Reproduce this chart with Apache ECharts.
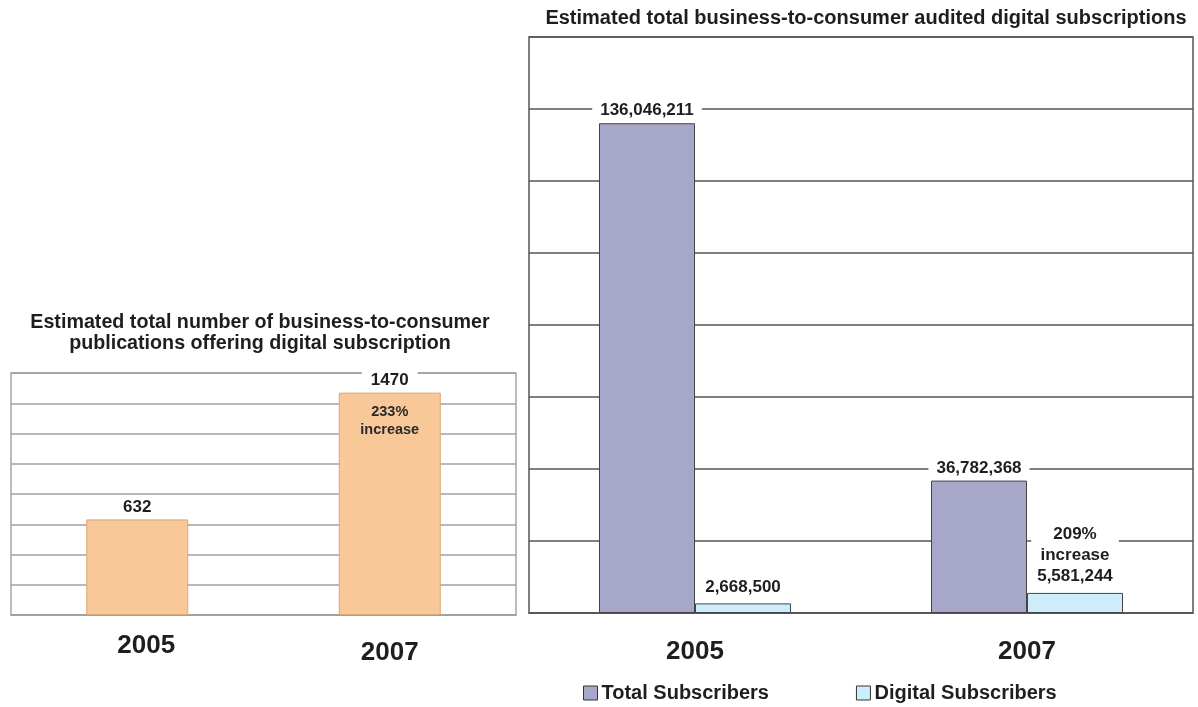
<!DOCTYPE html>
<html>
<head>
<meta charset="utf-8">
<script src="https://cdn.jsdelivr.net/npm/echarts/dist/echarts.min.js"></script>
<style>
  html, body { margin: 0; padding: 0; background: #ffffff; }
  #chart { width: 1198px; height: 707px; }
</style>
</head>
<body>
<div id="chart"></div>
<script>
// Categories and values
const years = ['2005', '2007'];
const publications = [632, 1470];
const publicationNotes = ['', '233%\nincrease'];
const totalSubscribers = [136046211, 36782368];
const digitalSubscribers = [2668500, 5581244];
const digitalNotes = ['', '209%\nincrease'];
const seriesNames = ['Total Subscribers', 'Digital Subscribers'];
const leftTitle = 'Estimated total number of business-to-consumer\npublications offering digital subscription';
const rightTitle = 'Estimated total business-to-consumer audited digital subscriptions';

const FONT = '"Liberation Sans", Arial, Helvetica, sans-serif';
const TEXT = '#1e1e1e';
const fmt = v => v.toLocaleString('en-US');

const chart = echarts.init(document.getElementById('chart'), null, { renderer: 'canvas' });

const yearLabel = (offsets) => ({
  margin: 18,
  formatter: (v, i) => '{y' + i + '|' + v + '}',
  rich: {
    y0: { fontFamily: FONT, fontSize: 26, fontWeight: 'bold', color: TEXT, padding: offsets[0] },
    y1: { fontFamily: FONT, fontSize: 26, fontWeight: 'bold', color: TEXT, padding: offsets[1] }
  }
});

chart.setOption({
  backgroundColor: '#ffffff',
  animation: false,
  textStyle: { fontFamily: FONT },
  title: [
    {
      text: leftTitle,
      left: 255, top: 307, textAlign: 'center',
      textStyle: { fontFamily: FONT, fontSize: 19.7, fontWeight: 'bold', color: TEXT, lineHeight: 21, align: 'center' }
    },
    {
      text: rightTitle,
      left: 861, top: 3, textAlign: 'center',
      textStyle: { fontFamily: FONT, fontSize: 20, fontWeight: 'bold', color: TEXT }
    }
  ],
  legend: {
    data: seriesNames,
    top: 678, left: 578,
    itemWidth: 14, itemHeight: 14, itemGap: 87,
    icon: 'rect',
    itemStyle: { borderColor: '#333', borderWidth: 1 },
    textStyle: { fontFamily: FONT, fontSize: 20, fontWeight: 'bold', color: TEXT, padding: [0, 0, 0, -1] }
  },
  grid: [
    { left: 11, top: 373, width: 505, height: 242, show: true, borderColor: '#a6a6a6', borderWidth: 1.5, containLabel: false },
    { left: 529, top: 37, width: 664, height: 576, show: true, borderColor: '#555555', borderWidth: 1.5, containLabel: false }
  ],
  xAxis: [
    {
      type: 'category', gridIndex: 0, data: years,
      axisLine: { lineStyle: { color: '#a0a0a0', width: 1.5 } },
      axisTick: { length: 5, lineStyle: { color: '#a0a0a0', width: 1.5 } },
      axisLabel: yearLabel([[0, 0, 0, 18], [7, 0, 0, 0]])
    },
    {
      type: 'category', gridIndex: 1, data: years,
      axisLine: { lineStyle: { color: '#555555', width: 1.5 } },
      axisTick: { length: 9, lineStyle: { color: '#555555', width: 1.5 } },
      axisLabel: yearLabel([[8, 0, 0, 0], [8, 0, 0, 0]])
    }
  ],
  yAxis: [
    {
      type: 'value', gridIndex: 0, min: 0, max: 1600, interval: 200,
      axisLine: { show: false }, axisTick: { show: false }, axisLabel: { show: false },
      splitLine: { lineStyle: { color: '#a0a0a0', width: 1.5 } }
    },
    {
      type: 'value', gridIndex: 1, min: 0, max: 160000000, interval: 20000000,
      axisLine: { show: false }, axisTick: { show: false }, axisLabel: { show: false },
      splitLine: { lineStyle: { color: '#555555', width: 1.5 } }
    }
  ],
  series: [
    {
      type: 'bar', name: 'Publications', xAxisIndex: 0, yAxisIndex: 0,
      data: publications, barWidth: 102, barGap: '-100%',
      itemStyle: { color: '#f9c899', borderColor: '#d8a878', borderWidth: 1 },
      label: {
        show: true, position: 'top', distance: 4,
        fontFamily: FONT, fontSize: 17, fontWeight: 'bold', color: TEXT,
        backgroundColor: '#ffffff', padding: [0, 9]
      },
      z: 3
    },
    {
      // percentage note drawn inside the top of each bar
      type: 'bar', xAxisIndex: 0, yAxisIndex: 0,
      data: publications, barWidth: 102, barGap: '-100%', silent: true,
      itemStyle: { color: 'rgba(0,0,0,0)' },
      label: {
        show: true, position: 'insideTop', distance: 10,
        formatter: p => publicationNotes[p.dataIndex],
        fontFamily: FONT, fontSize: 14.5, fontWeight: 'bold', color: '#2a2a2a', lineHeight: 18, align: 'center'
      },
      z: 4
    },
    {
      type: 'bar', name: seriesNames[0], xAxisIndex: 1, yAxisIndex: 1,
      data: totalSubscribers, barWidth: 96, barGap: 0,
      itemStyle: { color: '#a7a7c9', borderColor: '#444444', borderWidth: 1 },
      label: {
        show: true, position: 'top', distance: 3,
        formatter: p => fmt(p.value),
        fontFamily: FONT, fontSize: 17, fontWeight: 'bold', color: TEXT,
        backgroundColor: '#ffffff', padding: [1, 8]
      },
      z: 3
    },
    {
      type: 'bar', name: seriesNames[1], xAxisIndex: 1, yAxisIndex: 1,
      data: digitalSubscribers, barWidth: 96, barGap: 0,
      itemStyle: { color: '#cdedfa', borderColor: '#444444', borderWidth: 1 },
      label: {
        show: true, position: 'top', distance: 4,
        formatter: p => (digitalNotes[p.dataIndex] ? digitalNotes[p.dataIndex] + '\n' : '') + fmt(p.value),
        fontFamily: FONT, fontSize: 17, fontWeight: 'bold', color: TEXT, lineHeight: 21, align: 'center',
        backgroundColor: '#ffffff', padding: [2, 6]
      },
      z: 3
    }
  ]
});
</script>
</body>
</html>
